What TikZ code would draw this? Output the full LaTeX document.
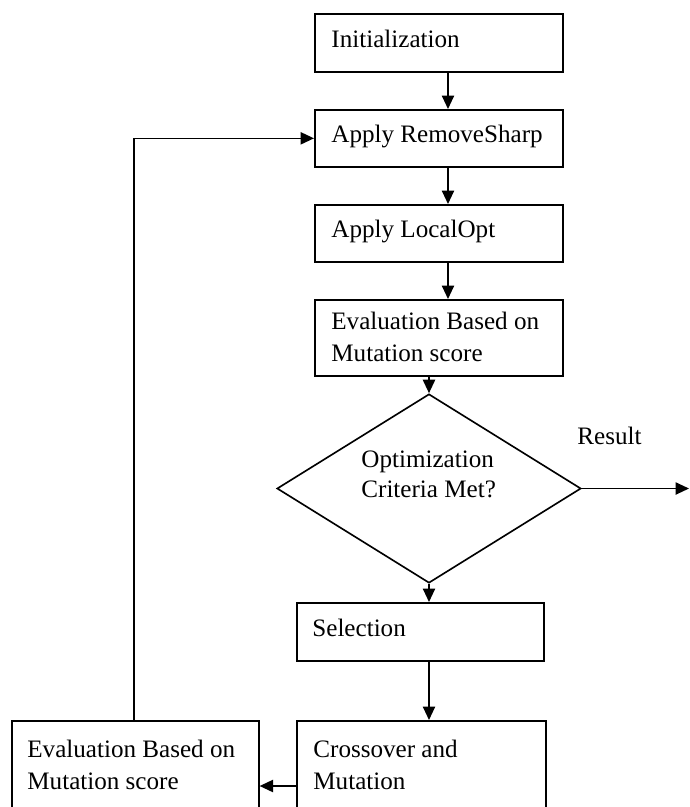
\documentclass[tikz,border=0pt]{standalone}
\usepackage{fontspec}
\setmainfont{Liberation Serif}
\usetikzlibrary{arrows.meta,shapes.geometric}

\newcommand{\px}{0.49pt}

\begin{document}
\begin{tikzpicture}[x=0.49pt, y=-0.49pt,
    stage/.style={draw, line width=0.8pt, rectangle, inner sep=0pt, anchor=north west},
    lbl/.style={anchor=base west, inner sep=0pt, align=left, font=\fontsize{12.3}{15.2}\selectfont},
    flow/.style={-{Triangle[length=6.6pt,width=6pt]}, line width=0.8pt}]

    % Page
    \path[use as bounding box] (0,0) rectangle (690,807);
    \clip (0,0) rectangle (690,807);

    % Boxes
    \node[stage, minimum width=248*\px, minimum height=58*\px] (init) at (314,13) {};
    \node[stage, minimum width=248*\px, minimum height=57*\px] (rsharp) at (314,109) {};
    \node[stage, minimum width=248*\px, minimum height=57*\px] (lopt) at (314,204) {};
    \node[stage, minimum width=248*\px, minimum height=76*\px] (evalA) at (314,299) {};
    \node[draw, line width=0.8pt, diamond, inner sep=0pt, minimum width=304*\px, minimum height=189*\px] (dec) at (429,488.5) {};
    \node[stage, minimum width=247*\px, minimum height=58*\px] (sel) at (296,602) {};
    \node[stage, minimum width=249*\px, minimum height=120*\px] (cross) at (296,720) {};
    \node[stage, minimum width=247*\px, minimum height=120*\px] (evalB) at (11,720) {};

    % Texts (multi-line ones sit on their last line)
    \node[lbl] (tinit) at (331,47) {Initialization};
    \node[lbl] (trsharp) at (331,142) {Apply RemoveSharp};
    \node[lbl] (tlopt) at (331,237) {Apply LocalOpt};
    \node[lbl] (tevalA) at (331,361) {Evaluation Based on\\Mutation score};
    \node[lbl, font=\fontsize{12.3}{14.4}\selectfont] (tdec) at (361,497) {Optimization\\Criteria Met?};
    \node[lbl] (tres) at (577,444) {Result};
    \node[lbl] (tsel) at (312,636) {Selection};
    \node[lbl] (tcross) at (313,789) {Crossover and\\Mutation};
    \node[lbl] (tevalB) at (27,789) {Evaluation Based on\\Mutation score};

    % Connectors
    \coordinate (colA) at (448,0);
    \coordinate (colB) at (429,0);
    \coordinate (rowC) at (0,786);
    \coordinate (loop) at (134,0);
    \coordinate (out) at (689,488.5);

    \draw[flow] (init.south -| colA) -- (rsharp.north -| colA);
    \draw[flow] (rsharp.south -| colA) -- (lopt.north -| colA);
    \draw[flow] (lopt.south -| colA) -- (evalA.north -| colA);
    \draw[flow] (evalA.south -| colB) -- (dec.north);
    \draw[flow] (dec.east) -- (out);
    \draw[flow] (dec.south) -- (sel.north -| colB);
    \draw[flow] (sel.south -| colB) -- (cross.north -| colB);
    \draw[flow] (cross.west |- rowC) -- (evalB.east |- rowC);
    \draw[flow] (evalB.north -| loop) |- (rsharp.west);

\end{tikzpicture}
\end{document}
